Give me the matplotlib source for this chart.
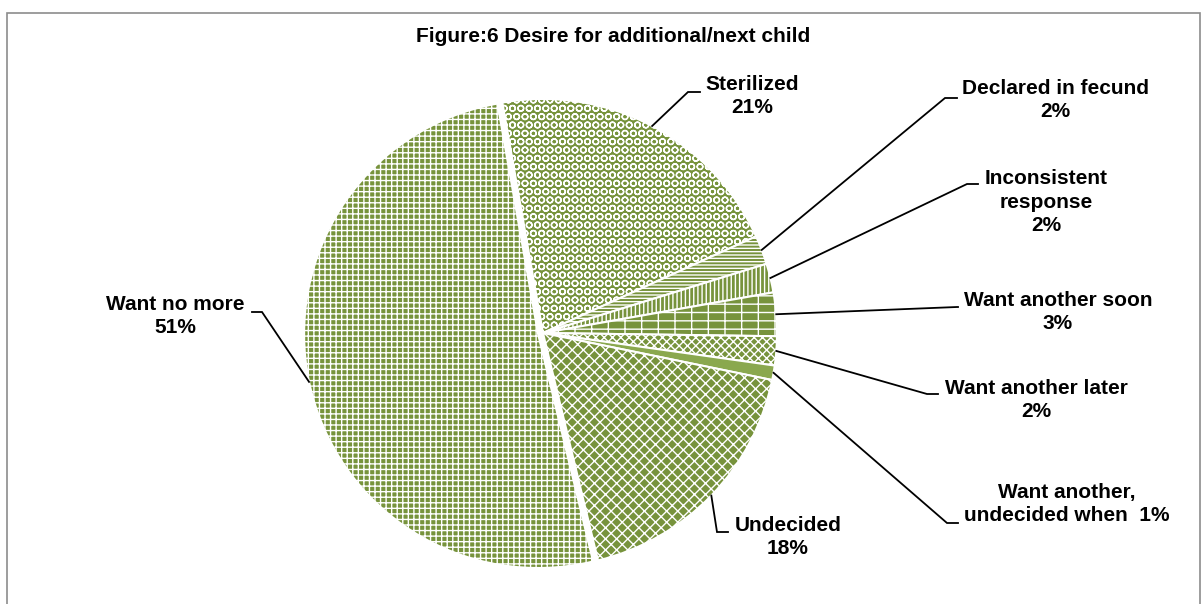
import matplotlib.pyplot as plt
import numpy as np
from matplotlib.patches import Rectangle

plt.rcParams['font.family'] = ['Liberation Sans', 'DejaVu Sans']
plt.rcParams['hatch.linewidth'] = 1.0

# clockwise from the top
categories = ['Sterilized', 'Declared in fecund', 'Inconsistent\nresponse',
              'Want another soon', 'Want another later',
              'Want another,\nundecided when', 'Undecided', 'Want no more']
shares = [21, 2, 2, 3, 2, 1, 18, 51]
label_sep = ['\n', '\n', '\n', '\n', '\n', '  ', '\n', '\n']

title = 'Figure:6 Desire for additional/next child'

W, H = 1203, 604

def py(y):
    # pixel row -> data y (axis grows upwards)
    return H - y

hatches = ['OO', '-----', '||||', '--|', 'xxxx', '', 'xxx', '+++']
green = '#77933C'
solid = '#8AA84E'
fills = [green] * 8
fills[5] = solid
explode = [0, 0, 0, 0, 0, 0, 0, 5]

# where each leader line bends and ends, and where its label sits
elbows = [(688, 92), (945, 98), (967, 184), (957, 307), (927, 394),
          (947, 523), (717, 532), (262, 312)]
ends = [(700, 92), (957, 98), (978, 184), (958, 307), (938, 394),
        (958, 523), (728, 532), (252, 312)]
label_pos = [(752, 96), (1055, 100), (1046, 202), (1058, 312), (1036, 400),
             (1067, 504), (788, 537), (175, 316)]

cx, cy, r = 543, py(333), 234

fig = plt.figure(figsize=(W / 100, H / 100), dpi=100)
ax = fig.add_axes([0, 0, 1, 1])

wedges, _ = ax.pie(shares, colors=fills, startangle=100, counterclock=False,
                   center=(cx, cy), radius=r, explode=explode,
                   wedgeprops=dict(edgecolor='white', linewidth=1.5))
for w, h in zip(wedges, hatches):
    w.set_hatch(h)

ax.set_xlim(0, W)
ax.set_ylim(0, H)
ax.set_aspect('equal')
ax.axis('off')

for i, w in enumerate(wedges):
    mid = np.deg2rad((w.theta1 + w.theta2) / 2)
    x0 = w.center[0] + r * np.cos(mid)
    y0 = w.center[1] + r * np.sin(mid)
    ex, ey = elbows[i]
    hx, hy = ends[i]
    ax.plot([x0, ex, hx], [y0, py(ey), py(hy)], color='black', lw=1.3,
            solid_joinstyle='miter')
    lx, ly = label_pos[i]
    ax.text(lx, py(ly), f'{categories[i]}{label_sep[i]}{shares[i]}%',
            ha='center', va='center', multialignment='center',
            fontsize=15, fontweight='bold', linespacing=1.3)

ax.text(613, py(37), title, ha='center', va='center',
        fontsize=15, fontweight='bold')

# chart frame
ax.add_patch(Rectangle((7, -20), 1193, py(13) + 20, fill=False,
                       edgecolor='#8C8C8C', lw=1.2, clip_on=False))

fig.savefig('out.png', dpi=100)
